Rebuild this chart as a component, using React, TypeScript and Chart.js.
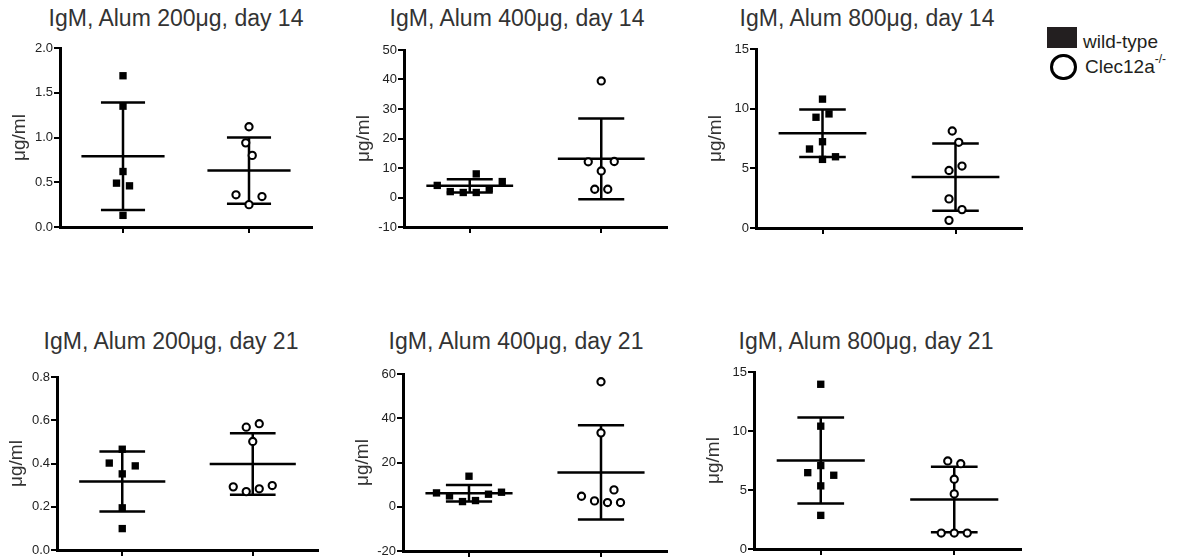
import React, { useEffect, useRef } from "react";
import { Chart, registerables } from "chart.js";

Chart.register(...registerables);

const FONT = "'Liberation Sans', Arial, Helvetica, sans-serif";

// ---------- data ----------
const groupX = [1, 2]; // 1 = wild-type, 2 = Clec12a-/-
const seriesNames = ["wild-type", "Clec12a-/-"];
const yTitle = "μg/ml";

const titles = [
  "IgM, Alum 200μg, day 14",
  "IgM, Alum 400μg, day 14",
  "IgM, Alum 800μg, day 14",
  "IgM, Alum 200μg, day 21",
  "IgM, Alum 400μg, day 21",
  "IgM, Alum 800μg, day 21",
];

// day 14, 200 µg
const wt200d14 = [1.69, 1.35, 0.62, 0.49, 0.46, 0.13];
const ko200d14 = [1.12, 0.8, 0.94, 0.25, 0.36, 0.34];
const mean200d14 = [0.79, 0.63];
const sd200d14 = [0.6, 0.37];
const ticks200d14 = ["0.0", "0.5", "1.0", "1.5", "2.0"];

// day 14, 400 µg
const wt400d14 = [1.7, 1.7, 3.0, 2.0, 5.4, 4.1, 8.0];
const ko400d14 = [39.5, 9.0, 12.1, 12.2, 2.8, 2.8];
const mean400d14 = [3.95, 13.1];
const sd400d14 = [2.25, 13.7];
const ticks400d14 = ["-10", "0", "10", "20", "30", "40", "50"];

// day 14, 800 µg
const wt800d14 = [10.8, 9.56, 9.28, 7.23, 5.75, 6.62, 5.97];
const ko800d14 = [7.18, 8.13, 5.19, 4.82, 1.54, 2.44, 0.64];
const mean800d14 = [7.93, 4.27];
const sd800d14 = [1.99, 2.82];
const ticks800d14 = ["0", "5", "10", "15"];

// day 21, 200 µg
const wt200d21 = [0.466, 0.352, 0.402, 0.389, 0.195, 0.099];
const ko200d21 = [0.584, 0.568, 0.502, 0.283, 0.27, 0.298, 0.292];
const mean200d21 = [0.317, 0.398];
const sd200d21 = [0.139, 0.142];
const ticks200d21 = ["0.0", "0.2", "0.4", "0.6", "0.8"];

// day 21, 400 µg
const wt400d21 = [13.8, 2.8, 2.34, 5.66, 4.9, 6.57, 6.26];
const ko400d21 = [56.5, 33.4, 1.89, 2.64, 1.89, 4.75, 7.62];
const mean400d21 = [6.11, 15.5];
const sd400d21 = [3.77, 21.3];
const ticks400d21 = ["-20", "0", "20", "40", "60"];

// day 21, 800 µg
const wt800d21 = [13.96, 10.41, 7.07, 6.47, 5.35, 6.25, 2.85];
const ko800d21 = [7.23, 7.46, 5.91, 4.67, 1.35, 1.35, 1.35];
const mean800d21 = [7.5, 4.2];
const sd800d21 = [3.65, 2.77];
const ticks800d21 = ["0", "5", "10", "15"];

const panels = [
  { title: titles[0], wt: wt200d14, ko: ko200d14, mean: mean200d14, sd: sd200d14, ticks: ticks200d14 },
  { title: titles[1], wt: wt400d14, ko: ko400d14, mean: mean400d14, sd: sd400d14, ticks: ticks400d14 },
  { title: titles[2], wt: wt800d14, ko: ko800d14, mean: mean800d14, sd: sd800d14, ticks: ticks800d14 },
  { title: titles[3], wt: wt200d21, ko: ko200d21, mean: mean200d21, sd: sd200d21, ticks: ticks200d21 },
  { title: titles[4], wt: wt400d21, ko: ko400d21, mean: mean400d21, sd: sd400d21, ticks: ticks400d21 },
  { title: titles[5], wt: wt800d21, ko: ko800d21, mean: mean800d21, sd: sd800d21, ticks: ticks800d21 },
];

// ---------- layout (page pixels of each plot area) ----------
const areas = [
  { left: 60, top: 48, right: 312, bottom: 227 },
  { left: 404, top: 50, right: 667, bottom: 227 },
  { left: 756, top: 49, right: 1022, bottom: 228 },
  { left: 57, top: 377, right: 318, bottom: 550 },
  { left: 403, top: 374, right: 667, bottom: 551 },
  { left: 754, top: 372, right: 1021, bottom: 549 },
];
const titleCenters = [176, 517, 867, 171, 516, 866];
const titleTops = [6.5, 6.5, 6.5, 329.5, 329.5, 329.5];

const Y_W = 55;
const PAD_T = 12;
const PAD_R = 4;
const X_H = 8;
const PAD_B = 2;
const MEAN_HALF = 0.33;
const CAP_HALF = 0.175;
const SWARM_D = 13;
const SWARM_STEP = 6.5;

// beeswarm: spread points that would overlap, centred on each cluster
function swarmOffsets(py: number[], D: number, step: number): number[] {
  const n = py.length;
  const order = py.map((_, i) => i).sort((a, b) => py[a] - py[b]);
  const clusters: number[][] = [];
  let cur: number[] = [];
  order.forEach((i, k) => {
    if (k > 0 && py[i] - py[order[k - 1]] >= D) {
      clusters.push(cur);
      cur = [];
    }
    cur.push(i);
  });
  if (cur.length) clusters.push(cur);
  const off = new Array(n).fill(0);
  clusters.forEach((cl) => {
    const members = [...cl].sort((a, b) => a - b);
    const placed: number[] = [];
    members.forEach((i) => {
      for (let k = 0; k < 60; k++) {
        const dx = k === 0 ? 0 : (k % 2 === 1 ? -1 : 1) * Math.ceil(k / 2) * step;
        const ok = placed.every((j) => {
          const ex = dx - off[j];
          const ey = py[i] - py[j];
          return ex * ex + ey * ey >= D * D - 1e-6;
        });
        if (ok) {
          off[i] = dx;
          placed.push(i);
          break;
        }
      }
    });
    const xs = members.map((i) => off[i]);
    const shift = (Math.min(...xs) + Math.max(...xs)) / 2;
    members.forEach((i) => (off[i] -= shift));
  });
  return off;
}

function errorBarData(c: number, m: number, s: number) {
  return [
    { x: c - MEAN_HALF, y: m },
    { x: c + MEAN_HALF, y: m },
    { x: c, y: null },
    { x: c, y: m - s },
    { x: c, y: m + s },
    { x: c, y: null },
    { x: c - CAP_HALF, y: m + s },
    { x: c + CAP_HALF, y: m + s },
    { x: c, y: null },
    { x: c - CAP_HALF, y: m - s },
    { x: c + CAP_HALF, y: m - s },
  ];
}

type PanelSpec = (typeof panels)[number];
type Area = (typeof areas)[number];

function Panel({ spec, area }: { spec: PanelSpec; area: Area }) {
  const ref = useRef<HTMLCanvasElement>(null);
  const left = area.left - Y_W;
  const top = area.top - PAD_T;
  const width = area.right + PAD_R - left;
  const height = area.bottom + X_H + PAD_B - top;

  useEffect(() => {
    const cv = ref.current;
    if (!cv) return;
    const tickVals = spec.ticks.map((t) => parseFloat(t));
    const chart = new Chart(cv, {
      type: "scatter",
      data: {
        datasets: [
          {
            label: seriesNames[0],
            data: spec.wt.map((v) => ({ x: groupX[0], y: v })),
            pointStyle: "rect",
            pointRadius: 5.2,
            backgroundColor: "#000",
            borderColor: "#000",
            borderWidth: 0,
            order: 0,
            clip: false,
          },
          {
            label: seriesNames[1],
            data: spec.ko.map((v) => ({ x: groupX[1], y: v })),
            pointStyle: "circle",
            pointRadius: 3.6,
            backgroundColor: "#fff",
            borderColor: "#000",
            borderWidth: 2.1,
            order: 0,
            clip: false,
          },
          {
            label: seriesNames[0] + " mean ± SD",
            data: errorBarData(groupX[0], spec.mean[0], spec.sd[0]) as any,
            showLine: true,
            spanGaps: false,
            borderColor: "#000",
            borderWidth: 2.5,
            pointRadius: 0,
            order: 1,
            clip: false,
          },
          {
            label: seriesNames[1] + " mean ± SD",
            data: errorBarData(groupX[1], spec.mean[1], spec.sd[1]) as any,
            showLine: true,
            spanGaps: false,
            borderColor: "#000",
            borderWidth: 2.5,
            pointRadius: 0,
            order: 1,
            clip: false,
          },
        ],
      },
      options: {
        responsive: false,
        animation: false,
        events: [],
        layout: {
          padding: { left: 0, top: PAD_T, right: PAD_R, bottom: PAD_B },
          autoPadding: false,
        },
        plugins: {
          legend: { display: false },
          title: { display: false },
          tooltip: { enabled: false },
        },
        scales: {
          x: {
            type: "linear",
            min: 0.5,
            max: 2.5,
            afterBuildTicks: (s: any) => {
              s.ticks = groupX.map((v) => ({ value: v }));
            },
            ticks: { display: false },
            grid: {
              display: true,
              drawOnChartArea: false,
              drawTicks: true,
              tickLength: 6,
              lineWidth: 2,
              color: "#000",
            },
            border: { display: true, width: 3, color: "#000" },
            afterFit: (s: any) => {
              s.height = X_H;
            },
          },
          y: {
            type: "linear",
            min: tickVals[0],
            max: tickVals[tickVals.length - 1],
            afterBuildTicks: (s: any) => {
              s.ticks = tickVals.map((v) => ({ value: v }));
            },
            ticks: {
              callback: (_v: any, i: number) => spec.ticks[i],
              font: { family: FONT, size: 13 },
              color: "#222",
              padding: 1,
            },
            grid: {
              display: true,
              drawOnChartArea: false,
              drawTicks: true,
              tickLength: 6,
              lineWidth: 2,
              color: "#000",
            },
            border: { display: true, width: 3, color: "#000" },
            title: {
              display: true,
              text: yTitle,
              font: { family: FONT, size: 19 },
              color: "#333",
              padding: { top: 3.6, bottom: 0 },
            },
            afterFit: (s: any) => {
              s.width = Y_W;
            },
          },
        },
      } as any,
    });

    // spread overlapping points horizontally (beeswarm) using the chart's own scales
    const xs: any = chart.scales.x;
    const ys: any = chart.scales.y;
    const pxPerX = xs.getPixelForValue(2) - xs.getPixelForValue(1);
    [spec.wt, spec.ko].forEach((vals, g) => {
      const py = vals.map((v) => ys.getPixelForValue(v));
      const off = swarmOffsets(py, SWARM_D, SWARM_STEP);
      chart.data.datasets[g].data = vals.map((v, i) => ({
        x: groupX[g] + off[i] / pxPerX,
        y: v,
      })) as any;
    });
    chart.update("none");

    return () => chart.destroy();
  }, []);

  return (
    <canvas
      ref={ref}
      width={width}
      height={height}
      style={{ position: "absolute", left, top, width, height }}
    />
  );
}

export default function App() {
  return (
    <div
      style={{
        position: "absolute",
        left: 0,
        top: 0,
        width: 1184,
        height: 560,
        background: "#fff",
        fontFamily: FONT,
        overflow: "hidden",
      }}
    >
      {panels.map((p, i) => (
        <Panel key={"c" + i} spec={p} area={areas[i]} />
      ))}
      {panels.map((p, i) => (
        <div
          key={"t" + i}
          style={{
            position: "absolute",
            left: titleCenters[i] - 170,
            width: 340,
            top: titleTops[i],
            textAlign: "center",
            fontSize: 23,
            lineHeight: "23px",
            color: "#333",
            whiteSpace: "nowrap",
          }}
        >
          {p.title}
        </div>
      ))}
      {/* legend */}
      <div
        style={{
          position: "absolute",
          left: 1047,
          top: 27,
          width: 30,
          height: 21,
          background: "#231f20",
        }}
      />
      <div
        style={{
          position: "absolute",
          left: 1083,
          top: 32,
          fontSize: 19,
          lineHeight: "19px",
          color: "#231f20",
          whiteSpace: "nowrap",
        }}
      >
        {seriesNames[0]}
      </div>
      <div
        style={{
          position: "absolute",
          left: 1050,
          top: 53.5,
          width: 26.5,
          height: 26.5,
          boxSizing: "border-box",
          border: "3.5px solid #000",
          borderRadius: "50%",
          background: "#fff",
        }}
      />
      <div
        style={{
          position: "absolute",
          left: 1085,
          top: 57,
          fontSize: 19,
          lineHeight: "19px",
          color: "#231f20",
          whiteSpace: "nowrap",
        }}
      >
        Clec12a
        <span style={{ fontSize: 12, position: "relative", top: -10 }}>-/-</span>
      </div>
    </div>
  );
}
